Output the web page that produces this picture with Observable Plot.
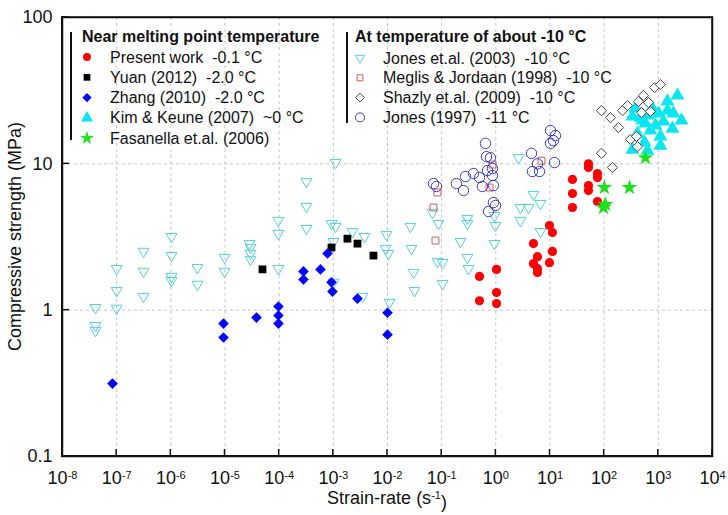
<!DOCTYPE html>
<html><head><meta charset="utf-8">
<script src="https://cdn.jsdelivr.net/npm/d3@7"></script>
<script src="https://cdn.jsdelivr.net/npm/@observablehq/plot@0.6"></script>
<style>
body{margin:0;background:#fff;}
#chart{width:728px;height:515px;}
</style></head>
<body><div id="chart"></div>
<script>
// ---- tick values ----
const xTicks = [1e-8,1e-7,1e-6,1e-5,1e-4,1e-3,1e-2,1e-1,1,1e1,1e2,1e3,1e4];
const yTicks = [0.1,1,10,100];

// ---- data [strain-rate (1/s), strength (MPa)] ----
const presentWork = [[0.499,1.70],[0.499,1.16],[1.03,1.90],[1.03,1.32],[1.03,1.11],
 [4.95,2.85],[5.87,2.32],[4.95,2.08],[5.87,1.92],[5.87,1.81],[9.77,3.79],[11.1,3.39],[11.1,2.52],[9.77,2.11],
 [26.0,7.82],[26.0,6.27],[26.0,5.03],[51.3,10.0],[51.3,9.44],[51.3,7.11],[51.3,6.57],[75.2,8.59],[75.2,8.06],[75.2,5.53]];
const yuan2012 = [[4.92e-5,1.90],[9.25e-4,2.68],[1.82e-3,3.08],[2.79e-3,2.85],[5.51e-3,2.36]];
const zhang2010 = [[8.38e-8,0.315],[9.38e-6,0.81],[9.38e-6,0.65],[3.81e-5,0.89],[9.7e-5,1.06],[9.7e-5,0.92],[9.7e-5,0.81],
 [2.81e-4,1.84],[2.81e-4,1.62],[5.79e-4,1.90],[7.80e-4,2.44],[9.25e-4,1.55],[9.64e-4,1.34],[2.79e-3,1.20],[1.0e-2,0.96],[1.0e-2,0.68]];
const kimKeune2007 = [[2254,29.3],[1476,26.7],[378,23.9],[333,21.1],[468,20.7],[630,21.4],[1006,22.1],[1476,23.1],[2673,19.8],
 [578,18.9],[885,18.3],[1245,19.5],[1824,17.4],[1094,15.4],[333,12.5],[555,14.0],[1094,13.3],[412,16.1],[716,16.9],[630,12.3],
 [509,19.8],[1901,22.1],[780,23.9]];
const fasanella2006 = [[578,11.0],[293,6.89],[101,6.89],[106,5.27],[97,5.03]];
const jones2003 = [[4.06e-8,1.04],[4.06e-8,0.785],[4.06e-8,0.726],[1.0e-7,1.92],[1.0e-7,1.36],[1.0e-7,1.03],
 [3.13e-7,2.52],[3.13e-7,1.84],[3.13e-7,1.24],[1.03e-6,3.18],[1.03e-6,2.36],[1.03e-6,1.70],[1.03e-6,1.59],
 [3.1e-6,1.95],[3.1e-6,1.50],[9.8e-6,2.29],[9.8e-6,1.84],[2.83e-5,2.85],[2.96e-5,2.68],[2.96e-5,2.44],[2.96e-5,2.22],
 [9.7e-5,4.10],[9.7e-5,3.34],[9.7e-5,1.92],[3.19e-4,7.57],[3.19e-4,5.11],[3.19e-4,3.61],[1.10e-3,10.2],
 [9.25e-4,3.91],[1.10e-3,3.73],[1.01e-3,2.94],[1.01e-3,1.55],[2.26e-3,3.44],[3.76e-3,3.18],[3.45e-3,1.24],
 [9.57e-3,3.29],[9.2e-3,2.64],[1.04e-2,2.44],[1.09e-2,1.13],[2.65e-2,3.73],[2.77e-2,2.64],[3.02e-2,1.81],[3.15e-2,1.36],
 [6.76e-2,4.65],[8.73e-2,3.91],[8.37e-2,2.15],[0.104,2.11],[0.104,1.52],[0.222,2.94],[0.299,4.23],[0.299,3.91],
 [0.299,2.29],[0.313,1.92],[0.944,4.43],[0.984,3.79],[0.944,2.85],[2.62,11.0],[4.95,6.17],[6.67,5.35],[2.85,5.03],
 [4.01,5.03],[2.85,4.10],[6.67,3.44]];
const meglis1998 = [[7.06e-2,5.03],[7.69e-2,2.99],[8.37e-2,6.37],[0.867,9.89],[0.764,6.89],[6.97,10.5]];
const shazly2009 = [[89.1,23.1],[131,20.7],[184,17.7],[218,23.1],[269,25.0],[430,26.7],[531,29.3],[658,26.2],[489,22.4],
 [716,22.8],[849,33.2],[1094,34.8],[306,14.7],[395,15.4],[412,13.1],[89.1,11.8],[142,9.44]];
const jones1997 = [[7.06e-2,7.33],[8.02e-2,7.0],[0.187,7.33],[0.253,6.57],[0.275,8.19],[0.386,8.59],[0.499,8.06],
 [0.644,13.8],[0.672,11.2],[0.796,11.0],[0.702,9.0],[0.867,9.29],[0.867,8.32],[0.566,7.0],[0.904,7.11],[0.904,5.44],
 [0.984,5.19],[0.731,4.72],[4.55,11.8],[5.87,10.0],[4.74,8.86],[6.40,8.86],[12.1,10.2],[10.2,16.9],[12.6,15.6],
 [11.6,14.4],[10.2,13.8]];

// ---- series styles & legend text ----
const S = {
  present:{label:"Present work  -0.1 °C", data:presentWork, sym:d3.symbolCircle, fill:"#ff0000", stroke:"none", r:4.6},
  yuan:{label:"Yuan (2012)  -2.0 °C", data:yuan2012, sym:d3.symbolSquare, fill:"#000000", stroke:"none", r:4.4},
  zhang:{label:"Zhang (2010)  -2.0 °C", data:zhang2010, sym:d3.symbolDiamond2, fill:"#0000ff", stroke:"none", r:4.8},
  kim:{label:"Kim & Keune (2007)  ~0 °C", data:kimKeune2007, sym:d3.symbolTriangle, fill:"#0ce6f0", stroke:"none", r:5.2},
  fas:{label:"Fasanella et.al. (2006)", data:fasanella2006, sym:d3.symbolStar, fill:"#1ee01e", stroke:"none", r:5},
  j03:{label:"Jones et.al. (2003)  -10 °C", data:jones2003, sym:d3.symbolTriangle2, fill:"none", stroke:"#4fd0dc", r:5.2, rot:180},
  meg:{label:"Meglis & Jordaan (1998)  -10 °C", data:meglis1998, sym:d3.symbolSquare2, fill:"none", stroke:"#d45a5a", r:4.4},
  sha:{label:"Shazly et.al. (2009)  -10 °C", data:shazly2009, sym:d3.symbolDiamond2, fill:"#ffffff", stroke:"#444444", r:4.6},
  j97:{label:"Jones (1997)  -11 °C", data:jones1997, sym:d3.symbolCircle, fill:"none", stroke:"#3a3abf", r:5.2}
};
const drawOrder = ["j03","meg","j97","kim","sha","yuan","zhang","present","fas"];
const legendA = ["present","yuan","zhang","kim","fas"];
const legendB = ["j03","meg","sha","j97"];

const dotMark = k => {
  const s = S[k];
  return Plot.dot(s.data, {x: d => d[0], y: d => d[1], symbol: s.sym, r: s.r,
    fill: s.fill, stroke: s.stroke, strokeWidth: 1, rotate: s.rot || 0});
};

const font = "'Liberation Sans', Arial, sans-serif";
const svg = Plot.plot({
  width: 728, height: 515,
  marginLeft: 62, marginRight: 16, marginTop: 17, marginBottom: 59,
  style: {fontFamily: font, fontSize: "18px", color: "#111", background: "#fff"},
  x: {type: "log", domain: [1e-8, 1e4]},
  y: {type: "log", domain: [0.1, 100]},
  marks: [
    Plot.gridX(xTicks, {stroke: "#c4c4c4", strokeOpacity: 1, strokeDasharray: "3,3"}),
    Plot.gridY(yTicks, {stroke: "#c4c4c4", strokeOpacity: 1, strokeDasharray: "3,3"}),
    ...drawOrder.map(dotMark),
    Plot.frame({stroke: "#111", strokeWidth: 1.5}),
    Plot.axisX(xTicks, {tickSize: 0, tickPadding: 15, label: null, fontSize: 18,
      tickFormat: d => String(Math.round(Math.log10(d)))}),
    Plot.axisY(yTicks, {tickSize: 0, tickPadding: 10, label: null, fontSize: 18,
      tickFormat: d => String(d)})
  ]
});
document.getElementById("chart").appendChild(svg);

const ns = "http://www.w3.org/2000/svg";
// superscript exponents on x tick labels
svg.querySelectorAll('[aria-label="x-axis tick label"] text').forEach(t => {
  const e = t.textContent;
  t.textContent = "10";
  const ts = document.createElementNS(ns, "tspan");
  ts.setAttribute("dy", "-0.5em");
  ts.setAttribute("font-size", "11");
  ts.textContent = e;
  t.appendChild(ts);
});

const root = d3.select(svg);
const sx = svg.scale("x"), sy = svg.scale("y");
const X = v => sx.apply(v), Y = v => sy.apply(v);
const xL = X(xTicks[0]), xR = X(xTicks[xTicks.length - 1]);
const yB = Y(yTicks[0]), yT = Y(yTicks[yTicks.length - 1]);

// axis titles
const xt = root.append("text").attr("x", (xL + xR) / 2).attr("y", 504).attr("text-anchor", "middle")
  .attr("font-family", font).attr("font-size", 18).attr("fill", "#111").text("Strain-rate (s");
xt.append("tspan").attr("dy", "-0.5em").attr("font-size", 11).text("-1");
xt.append("tspan").attr("dy", "0.5em").text(")");
root.append("text").attr("transform", `translate(21,${(yT + yB) / 2}) rotate(-90)`).attr("text-anchor", "middle")
  .attr("font-family", font).attr("font-size", 18).attr("fill", "#111").text("Compressive strength (MPa)");

// legends
function legend(keys, title, barX, titleX, markX, textX, rowY0, rowStep, barY1, barY2) {
  const g = root.append("g").attr("font-family", font).attr("font-size", 16)
    .attr("fill", "#111").attr("text-anchor", "start");
  g.append("line").attr("x1", barX).attr("x2", barX).attr("y1", barY1).attr("y2", barY2)
    .attr("stroke", "#111").attr("stroke-width", 2);
  g.append("text").attr("x", titleX).attr("y", 42).attr("font-weight", "bold").text(title);
  keys.forEach((k, i) => {
    const s = S[k];
    const cy = rowY0 + i * rowStep;
    g.append("path").attr("d", d3.symbol(s.sym, Math.PI * s.r * s.r * 0.75)())
      .attr("transform", `translate(${markX},${cy}) rotate(${s.rot || 0})`)
      .attr("fill", s.fill).attr("stroke", s.stroke);
    g.append("text").attr("x", textX).attr("y", cy + 5.5).style("white-space", "pre").text(s.label);
  });
}
legend(legendA, "Near melting point temperature", 71, 82, 87, 110, 57, 20.3, 32, 140);
legend(legendB, "At temperature of about -10 °C", 347, 355, 360, 383, 58, 19.8, 32, 123);

// axes frame and inward ticks as filled bars, positioned through Plot's scales, drawn last
const fr = root.append("g").attr("fill", "#111").attr("stroke", "none");
fr.append("rect").attr("x", xL - 1).attr("y", yT - 0.75).attr("width", xR - xL + 1.75).attr("height", 1.5);
fr.append("rect").attr("x", xR - 0.75).attr("y", yT - 0.75).attr("width", 1.5).attr("height", yB - yT + 1);
fr.append("rect").attr("x", xL - 1).attr("y", yT - 0.75).attr("width", 2).attr("height", yB - yT + 1.75);
fr.append("rect").attr("x", xL - 1).attr("y", yB - 1).attr("width", xR - xL + 1.75).attr("height", 2);
xTicks.forEach(v => fr.append("rect").attr("x", X(v) - 0.75).attr("y", yB - 7).attr("width", 1.5).attr("height", 7));
yTicks.forEach(v => fr.append("rect").attr("x", xL).attr("y", Y(v) - 0.75).attr("width", 7).attr("height", 1.5));
</script></body></html>
